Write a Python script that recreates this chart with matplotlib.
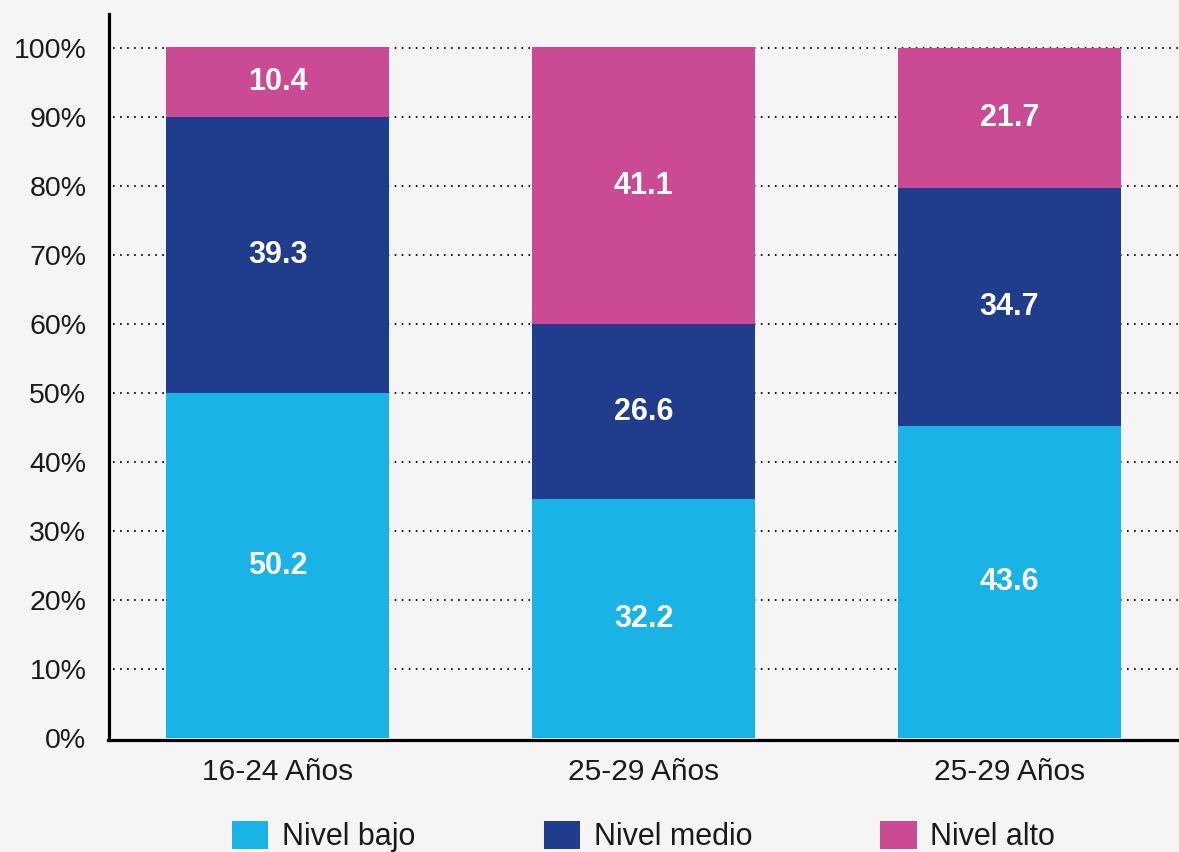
#stacked bars: nivel bajo / medio / alto by age group
import numpy as np
import matplotlib.pyplot as plt

plt.rcParams['font.family'] = ['Liberation Sans', 'DejaVu Sans']

#data
grupos = ['16-24 Años', '25-29 Años', '25-29 Años']
series = ['Nivel bajo', 'Nivel medio', 'Nivel alto']

#segment heights as drawn
bajo = [50.0, 34.7, 45.2]
medio = [40.1, 25.3, 34.6]
alto = [10.1, 40.2, 20.2]

#numbers written on the segments
txt_bajo = ['50.2', '32.2', '43.6']
txt_medio = ['39.3', '26.6', '34.7']
txt_alto = ['10.4', '41.1', '21.7']

yticks = [0, 10, 20, 30, 40, 50, 60, 70, 80, 90, 100]
ytick_labels = ['0%', '10%', '20%', '30%', '40%', '50%', '60%', '70%', '80%', '90%', '100%']

colores = ['#19b3e6', '#203c8c', '#ca4a93']
fondo = '#f5f5f5'

fig = plt.figure(figsize=(11.79, 8.52), dpi=100, facecolor=fondo)
ax = fig.add_axes([108.5/1179, 1-740/852, 1-108.5/1179, 726/852])
ax.set_facecolor(fondo)

x = np.arange(len(grupos))
ancho = 0.609

bottom = np.zeros(len(grupos))
for vals, txts, col, name in zip([bajo, medio, alto], [txt_bajo, txt_medio, txt_alto], colores, series):
    bars = ax.bar(x, vals, ancho, bottom=bottom, color=col, label=name, zorder=3)
    ax.bar_label(bars, labels=txts, label_type='center', color='white',
                 fontsize=22, fontweight='bold')
    bottom = bottom + np.array(vals)

#dotted grid behind the bars (none at 0, the axis line is there)
for t in yticks[1:]:
    ax.axhline(t, xmin=0.004, color='black', lw=1.3, linestyle=(0, (0.9, 3.0)), zorder=1)

ax.set_xlim(-0.462, 2.463)
ax.set_ylim(-0.25, 105)
ax.set_xticks(x)
ax.set_xticklabels(grupos, fontsize=21.5, color='#1a1a1a')
ax.set_yticks(yticks)
ax.set_yticklabels(ytick_labels, fontsize=20.5, color='#1a1a1a')
ax.tick_params(axis='both', length=0)
ax.tick_params(axis='y', pad=16)
ax.tick_params(axis='x', pad=13)

for s in ['top', 'right']:
    ax.spines[s].set_visible(False)
for s in ['left', 'bottom']:
    ax.spines[s].set_linewidth(2.3)
    ax.spines[s].set_color('black')
    ax.spines[s].set_zorder(4)

leg = ax.legend(loc='center', bbox_to_anchor=(0.5, -0.133), ncol=3, frameon=False,
                fontsize=22, handlelength=1.18, handleheight=1.05, handletextpad=0.45,
                columnspacing=4.2, borderpad=0, borderaxespad=0)
for t in leg.get_texts():
    t.set_color('#1a1a1a')

plt.savefig('out.png', dpi=100, facecolor=fondo)
